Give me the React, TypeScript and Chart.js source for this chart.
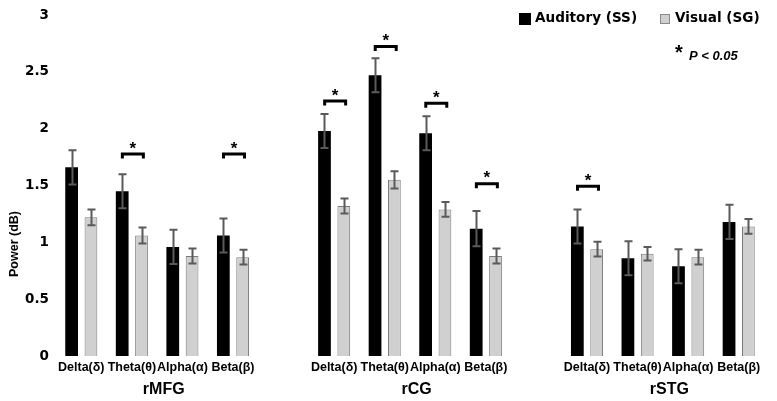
import React, { useEffect, useRef } from "react";
import { Chart, registerables } from "chart.js";

Chart.register(...registerables);

// ---- data ----
const bandLabels = [
  "Delta(δ)", "Theta(θ)", "Alpha(α)", "Beta(β)", "",
  "Delta(δ)", "Theta(θ)", "Alpha(α)", "Beta(β)", "",
  "Delta(δ)", "Theta(θ)", "Alpha(α)", "Beta(β)",
];
const regionLabels = ["rMFG", "rCG", "rSTG"];
const regionRanges = [[0, 3], [5, 8], [10, 13]];

const auditory = [1.66, 1.45, 0.96, 1.06, null, 1.98, 2.47, 1.96, 1.12, null, 1.14, 0.86, 0.79, 1.18];
const visual = [1.22, 1.06, 0.88, 0.87, null, 1.32, 1.55, 1.29, 0.88, null, 0.94, 0.9, 0.87, 1.14];
const auditoryErr = [0.15, 0.15, 0.15, 0.15, null, 0.15, 0.15, 0.15, 0.155, null, 0.15, 0.15, 0.15, 0.15];
const visualErr = [0.07, 0.07, 0.065, 0.065, null, 0.065, 0.075, 0.065, 0.065, null, 0.065, 0.06, 0.065, 0.065];
// level (in dB) of significance bracket, null = not significant
const sigLevel = [null, 1.79, null, 1.79, null, 2.257, 2.737, 2.237, 1.529, null, 1.506, null, null, null];

const yTicks = [0, 0.5, 1, 1.5, 2, 2.5, 3];

const overlayPlugin = {
  id: "overlay",
  afterDatasetsDraw(chart: any) {
    const ctx = chart.ctx;
    const y = chart.scales.y;
    const metaA = chart.getDatasetMeta(0);
    const metaV = chart.getDatasetMeta(1);
    const errs = [auditoryErr, visualErr];
    const vals = [auditory, visual];
    ctx.save();
    // error bars
    [metaA, metaV].forEach((meta: any, di: number) => {
      meta.data.forEach((bar: any, i: number) => {
        const v = vals[di][i];
        const e = errs[di][i];
        if (v == null || e == null) return;
        const x = Math.round(bar.x) + 0.5;
        const yTop = y.getPixelForValue(v + e);
        const yBot = y.getPixelForValue(v - e);
        ctx.strokeStyle = "#5a5a5a";
        ctx.lineWidth = 2;
        ctx.beginPath();
        ctx.moveTo(x, yTop);
        ctx.lineTo(x, yBot);
        ctx.moveTo(x - 4, yTop);
        ctx.lineTo(x + 4, yTop);
        ctx.moveTo(x - 4, yBot);
        ctx.lineTo(x + 4, yBot);
        ctx.stroke();
      });
    });
    // significance brackets
    sigLevel.forEach((lv, i) => {
      if (lv == null) return;
      const a = metaA.data[i];
      const b = metaV.data[i];
      const cx = (a.x + b.x) / 2 + 1;
      const by = y.getPixelForValue(lv);
      ctx.strokeStyle = "#000";
      ctx.lineWidth = 3;
      ctx.lineJoin = "miter";
      ctx.beginPath();
      ctx.moveTo(cx - 10.5, by + 6);
      ctx.lineTo(cx - 10.5, by + 1.5);
      ctx.lineTo(cx + 10.5, by + 1.5);
      ctx.lineTo(cx + 10.5, by + 6);
      ctx.stroke();
      ctx.fillStyle = "#000";
      ctx.font = "bold 17px 'Liberation Sans'";
      ctx.textAlign = "center";
      ctx.textBaseline = "alphabetic";
      ctx.fillText("*", cx, by + 1);
    });
    ctx.restore();
  },
  afterDraw(chart: any) {
    const ctx = chart.ctx;
    const x = chart.scales.x;
    ctx.save();
    // region labels
    ctx.fillStyle = "#000";
    ctx.font = "bold 16px 'Liberation Sans'";
    ctx.textAlign = "center";
    ctx.textBaseline = "middle";
    regionLabels.forEach((lab, k) => {
      const [s, e] = regionRanges[k];
      const px = x.getPixelForValue((s + e) / 2 + 0.13);
      ctx.fillText(lab, px, 390);
    });
    // y title
    ctx.save();
    ctx.translate(14.5, 244);
    ctx.rotate(-Math.PI / 2);
    ctx.font = "bold 12.5px 'Liberation Sans'";
    ctx.fillText("Power (dB)", 0, 0);
    ctx.restore();
    // legend
    ctx.fillStyle = "#000";
    ctx.fillRect(519, 13, 12, 12);
    ctx.font = "bold 13.6px 'DejaVu Sans'";
    ctx.textAlign = "left";
    ctx.textBaseline = "middle";
    ctx.fillText(chart.data.datasets[0].label, 535, 18);
    ctx.fillStyle = "#d0d0d0";
    ctx.fillRect(660, 14, 10, 10);
    ctx.strokeStyle = "#8a8a8a";
    ctx.lineWidth = 1;
    ctx.strokeRect(660.5, 14.5, 9, 9);
    ctx.fillStyle = "#000";
    ctx.fillText(chart.data.datasets[1].label, 675, 18);
    // p-value note
    ctx.font = "bold 20px 'Liberation Sans'";
    ctx.textAlign = "center";
    ctx.textBaseline = "alphabetic";
    ctx.fillText("*", 679, 59);
    ctx.font = "italic bold 13px 'Liberation Sans'";
    ctx.textAlign = "left";
    ctx.textBaseline = "middle";
    ctx.fillText("P < 0.05", 689, 56.5);
    ctx.restore();
  },
};

export default function App() {
  const ref = useRef<HTMLCanvasElement>(null);
  useEffect(() => {
    if (!ref.current) return;
    const chart = new Chart(ref.current, {
      type: "bar",
      data: {
        labels: bandLabels,
        datasets: [
          {
            label: "Auditory (SS)",
            data: auditory as any,
            backgroundColor: "#000000",
            borderColor: "#000000",
            borderWidth: 0,
            categoryPercentage: 0.764,
            barPercentage: 0.66,
          },
          {
            label: "Visual (SG)",
            data: visual as any,
            backgroundColor: "#d0d0d0",
            borderColor: "#7a7a7a",
            borderWidth: 1,
            categoryPercentage: 0.764,
            barPercentage: 0.66,
          },
        ],
      },
      options: {
        animation: false,
        responsive: true,
        maintainAspectRatio: false,
        layout: { padding: { top: 14, right: 13, left: 0, bottom: 0 } },
        plugins: { legend: { display: false }, tooltip: { enabled: false } },
        scales: {
          x: {
            grid: { display: false, drawTicks: false },
            border: { display: false },
            ticks: {
              autoSkip: false,
              maxRotation: 0,
              minRotation: 0,
              padding: 4,
              color: "#000",
              font: { family: "'Liberation Sans'", weight: "bold", size: 12.5 },
            },
            afterFit: (s: any) => { s.height = 45; },
          },
          y: {
            min: 0,
            max: 3,
            afterBuildTicks: (s: any) => { s.ticks = yTicks.map((v) => ({ value: v })); },
            grid: { display: false, drawTicks: false },
            border: { display: false },
            ticks: {
              padding: 7,
              color: "#000",
              font: { family: "'DejaVu Sans'", weight: "bold", size: 13.5 },
              callback: (v: any) => String(v),
            },
            afterFit: (s: any) => { s.width = 56; },
          },
        },
      },
      plugins: [overlayPlugin],
    });
    return () => chart.destroy();
  }, []);
  return (
    <div style={{ position: "fixed", left: 0, top: 0, width: 777, height: 401, background: "#fff" }}>
      <canvas ref={ref} />
    </div>
  );
}
